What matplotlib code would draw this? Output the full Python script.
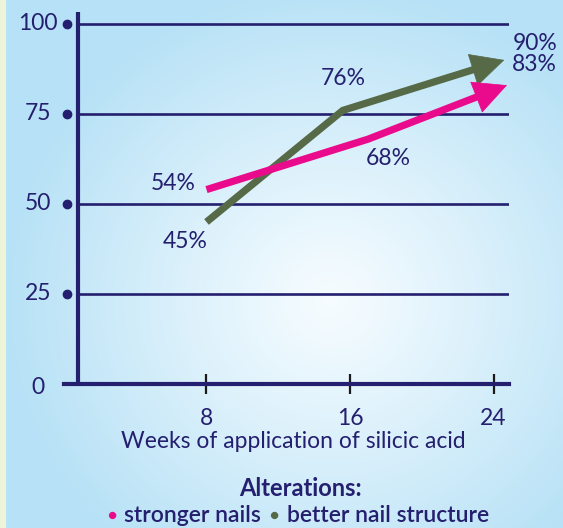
import numpy as np
import matplotlib.pyplot as plt
from matplotlib.offsetbox import TextArea, HPacker, AnchoredOffsetbox

# Weeks of application and share of people reporting an improvement (%)
weeks_nails = [8, 17, 24.75]
nails = [54, 68, 83]
weeks_structure = [8, 15.6, 24.6]
structure = [45, 76, 90]

y_ticks = [0, 25, 50, 75, 100]
x_ticks = [8, 16, 24]

NAVY = '#241f6e'
PINK = '#ea0a8c'
GREEN = '#566a48'
FS = 16.5

plt.rcParams['font.family'] = ['Lato', 'DejaVu Sans']

W, H = 563, 528
fig = plt.figure(figsize=(W / 100, H / 100), dpi=100)

# soft radial background, light in the middle and blue at the edges
bg = fig.add_axes([0, 0, 1, 1], zorder=-10)
yy, xx = np.mgrid[0:H, 0:W]
d = np.sqrt(((xx - 330) / 330.0) ** 2 + ((yy - 300) / 320.0) ** 2)
t = np.clip(d, 0, 1) ** 1.1
inner = np.array([246, 252, 255]) / 255.0
outer = np.array([182, 225, 246]) / 255.0
img = inner * (1 - t[..., None]) + outer * t[..., None]
img[:, :6] = np.array([238, 244, 216]) / 255.0
bg.imshow(img, aspect='auto', interpolation='bilinear')
bg.axis('off')


def px(x0, y0, x1, y1):
    # figure rect from pixel edges measured top-down
    return [x0 / W, 1 - y1 / H, (x1 - x0) / W, (y1 - y0) / H]


ax = fig.add_axes(px(64, 12, 509, 384))
ax.patch.set_alpha(0)
ax.set_xlim(0.058, 24.86)
ax.set_ylim(0, 103.33)

for s in ['top', 'right']:
    ax.spines[s].set_visible(False)
ax.spines['left'].set_position(('data', 0.838))
ax.spines['left'].set_linewidth(3)
ax.spines['left'].set_color(NAVY)
ax.spines['bottom'].set_linewidth(3)
ax.spines['bottom'].set_color(NAVY)
ax.spines['left'].set_capstyle('butt')

# horizontal grid lines from the y axis to the right edge
for v in y_ticks[1:]:
    ax.plot([0.838, 24.86], [v, v], color=NAVY, lw=1.9, solid_capstyle='butt', zorder=1)

# y tick dots and labels
ax.set_yticks([])
ax.plot([0.225] * len(y_ticks[1:]), y_ticks[1:], 'o', color=NAVY, ms=6, clip_on=False, zorder=3)
for v in y_ticks:
    ax.annotate(str(v), xy=(0.058, v), xytext=(-26, 0 if v else -4), textcoords='offset pixels',
                ha='center', va='center', fontsize=FS, color=NAVY, annotation_clip=False)

# x ticks: short black marks across the axis
ax.set_xticks(x_ticks)
ax.set_xticklabels([str(v) for v in x_ticks], fontsize=FS, color=NAVY)
ax.tick_params(axis='x', direction='inout', length=14, width=1.6, color='#1a1a1a', pad=10)
ax.set_xlabel('Weeks of application of silicic acid', fontsize=FS, color=NAVY)
ax.xaxis.set_label_coords(0.515, -0.126)


def arrow_line(xs, ys, color):
    pts = ax.transData.transform(np.column_stack([xs, ys]))
    tip = pts[-1]
    vec = tip - pts[-2]
    vec = vec / np.hypot(*vec)
    base = tip - vec * 28
    shaft = np.vstack([pts[:-1], base])
    sx, sy = ax.transData.inverted().transform(shaft).T
    ax.plot(sx, sy, color=color, lw=5.2, solid_joinstyle='miter', solid_capstyle='butt', zorder=4)
    bx, by = ax.transData.inverted().transform(tip - vec * 36)
    ax.annotate('', xy=(xs[-1], ys[-1]), xytext=(bx, by),
                arrowprops=dict(arrowstyle='-|>,head_length=1.0,head_width=0.5',
                                mutation_scale=23, lw=0.5, color=color,
                                shrinkA=0, shrinkB=0), zorder=5)


arrow_line(weeks_structure, structure, GREEN)
arrow_line(weeks_nails, nails, PINK)

# value labels next to the points (the two end values share one stacked label)
label_kw = dict(textcoords='offset pixels', fontsize=FS, color=NAVY, va='center')
offsets_structure = [(-21, -20), (0, 32)]
offsets_nails = [(-33, 6), (20, -19)]
for x, y, (dx, dy) in zip(weeks_structure[:-1], structure[:-1], offsets_structure):
    ax.annotate(f'{y}%', xy=(x, y), xytext=(dx, dy), ha='center', **label_kw)
for x, y, (dx, dy) in zip(weeks_nails[:-1], nails[:-1], offsets_nails):
    ax.annotate(f'{y}%', xy=(x, y), xytext=(dx, dy), ha='center', **label_kw)
ax.annotate(f'{structure[-1]}%\n{nails[-1]}%', xy=(weeks_structure[-1], structure[-1]),
            xytext=(8, 6), ha='left', linespacing=0.95, annotation_clip=False, **label_kw)

# legend block under the chart
fig.text(300 / W, 1 - 488 / H, 'Alterations:', ha='center', va='center',
         fontsize=17, fontweight='bold', color=NAVY)

items = [TextArea('\u25cf', textprops=dict(color=PINK, fontsize=11)),
         TextArea('stronger nails', textprops=dict(color=NAVY, fontsize=FS, fontweight='semibold')),
         TextArea('\u25cf', textprops=dict(color=GREEN, fontsize=11)),
         TextArea('better nail structure', textprops=dict(color=NAVY, fontsize=FS, fontweight='semibold'))]
row = HPacker(children=items, align='center', pad=0, sep=6)
box = AnchoredOffsetbox(loc='center', child=row, frameon=False,
                        bbox_to_anchor=(298 / W, 1 - 516 / H), bbox_transform=fig.transFigure)
fig.add_artist(box)

fig.savefig('out.png', dpi=100)
